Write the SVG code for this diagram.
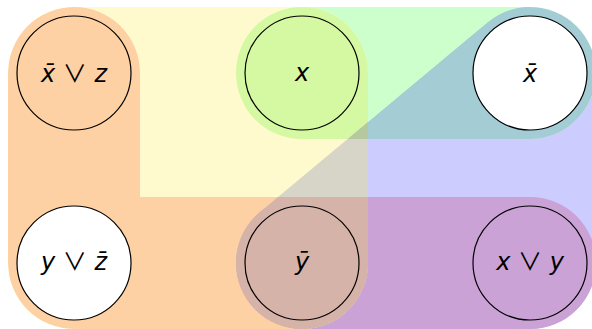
<svg xmlns="http://www.w3.org/2000/svg" width="592" height="329" viewBox="0 0 592 329">
  <style>
    .node circle { stroke: #000; stroke-width: 1.2; }
    .lbl { font-family: "DejaVu Sans", "Liberation Sans", sans-serif; font-size: 24px; text-anchor: middle; fill: #000; }
    .it { font-style: italic; }
    .op { font-family: "Noto Sans CJK JP", "DejaVu Sans", sans-serif; font-size: 24px; font-style: normal; }
  </style>
  <defs>
    <clipPath id="clipY"><rect x="8" y="7" width="360" height="322" rx="66" ry="66"/></clipPath>
    <clipPath id="clipG"><rect x="236" y="7" width="360" height="132" rx="66" ry="66"/></clipPath>
    <clipPath id="clipBottom"><rect x="0" y="197" width="592" height="132"/></clipPath>
  </defs>
  <g id="regions">
    <rect x="236" y="7" width="360" height="322" rx="66" ry="66" fill="#ccccff"/>
    <rect x="236" y="7" width="360" height="132" rx="66" ry="66" fill="#ccffcc"/>
    <rect x="236" y="197" width="360" height="132" rx="66" ry="66" fill="#caa2d5"/>
    <g clip-path="url(#clipG)">
      <path d="M302,263 L530,73" stroke="#a3ccd5" stroke-width="132" stroke-linecap="round" fill="none"/>
    </g>
    <g clip-path="url(#clipY)">
      <rect x="8" y="7" width="360" height="322" fill="#fffacd"/>
      <path d="M74,73 V263 H302" stroke="#fdd1a3" stroke-width="132" stroke-linecap="round" stroke-linejoin="round" fill="none"/>
      <rect x="236" y="7" width="360" height="132" rx="66" ry="66" fill="#d5f8a3"/>
      <path d="M302,263 L530,73" stroke="#d7d4c8" stroke-width="132" stroke-linecap="round" fill="none"/>
      <g clip-path="url(#clipG)">
        <path d="M302,263 L530,73" stroke="#b5c8a0" stroke-width="132" stroke-linecap="round" fill="none"/>
      </g>
      <g clip-path="url(#clipBottom)" fill="#d6b3a8">
        <path d="M302,263 L530,73" stroke="#d6b3a8" stroke-width="132" stroke-linecap="round" fill="none"/>
        <rect x="236" y="197" width="360" height="132" rx="66" ry="66"/>
      </g>
    </g>
  </g>
  <g id="connectors"/>
  <g id="n-notx-or-z" class="node">
    <circle cx="74" cy="73" r="57" fill="none"/>
    <text class="lbl" x="74" y="82"><tspan class="it">x̄</tspan> <tspan class="op">∨</tspan> <tspan class="it">z</tspan></text>
  </g>
  <g id="n-x" class="node">
    <circle cx="302" cy="73" r="57" fill="none"/>
    <text class="lbl it" x="302" y="81">x</text>
  </g>
  <g id="n-notx" class="node">
    <circle cx="530" cy="73" r="57" fill="#ffffff"/>
    <text class="lbl it" x="530" y="82">x̄</text>
  </g>
  <g id="n-y-or-notz" class="node">
    <circle cx="74" cy="263" r="57" fill="#ffffff"/>
    <text class="lbl" x="74" y="270"><tspan class="it">y</tspan> <tspan class="op">∨</tspan> <tspan class="it">z̄</tspan></text>
  </g>
  <g id="n-noty" class="node">
    <circle cx="302" cy="263" r="57" fill="none"/>
    <text class="lbl it" x="302" y="270">ȳ</text>
  </g>
  <g id="n-x-or-y" class="node">
    <circle cx="530" cy="263" r="57" fill="none"/>
    <text class="lbl" x="530" y="270"><tspan class="it">x</tspan> <tspan class="op">∨</tspan> <tspan class="it">y</tspan></text>
  </g>
</svg>
